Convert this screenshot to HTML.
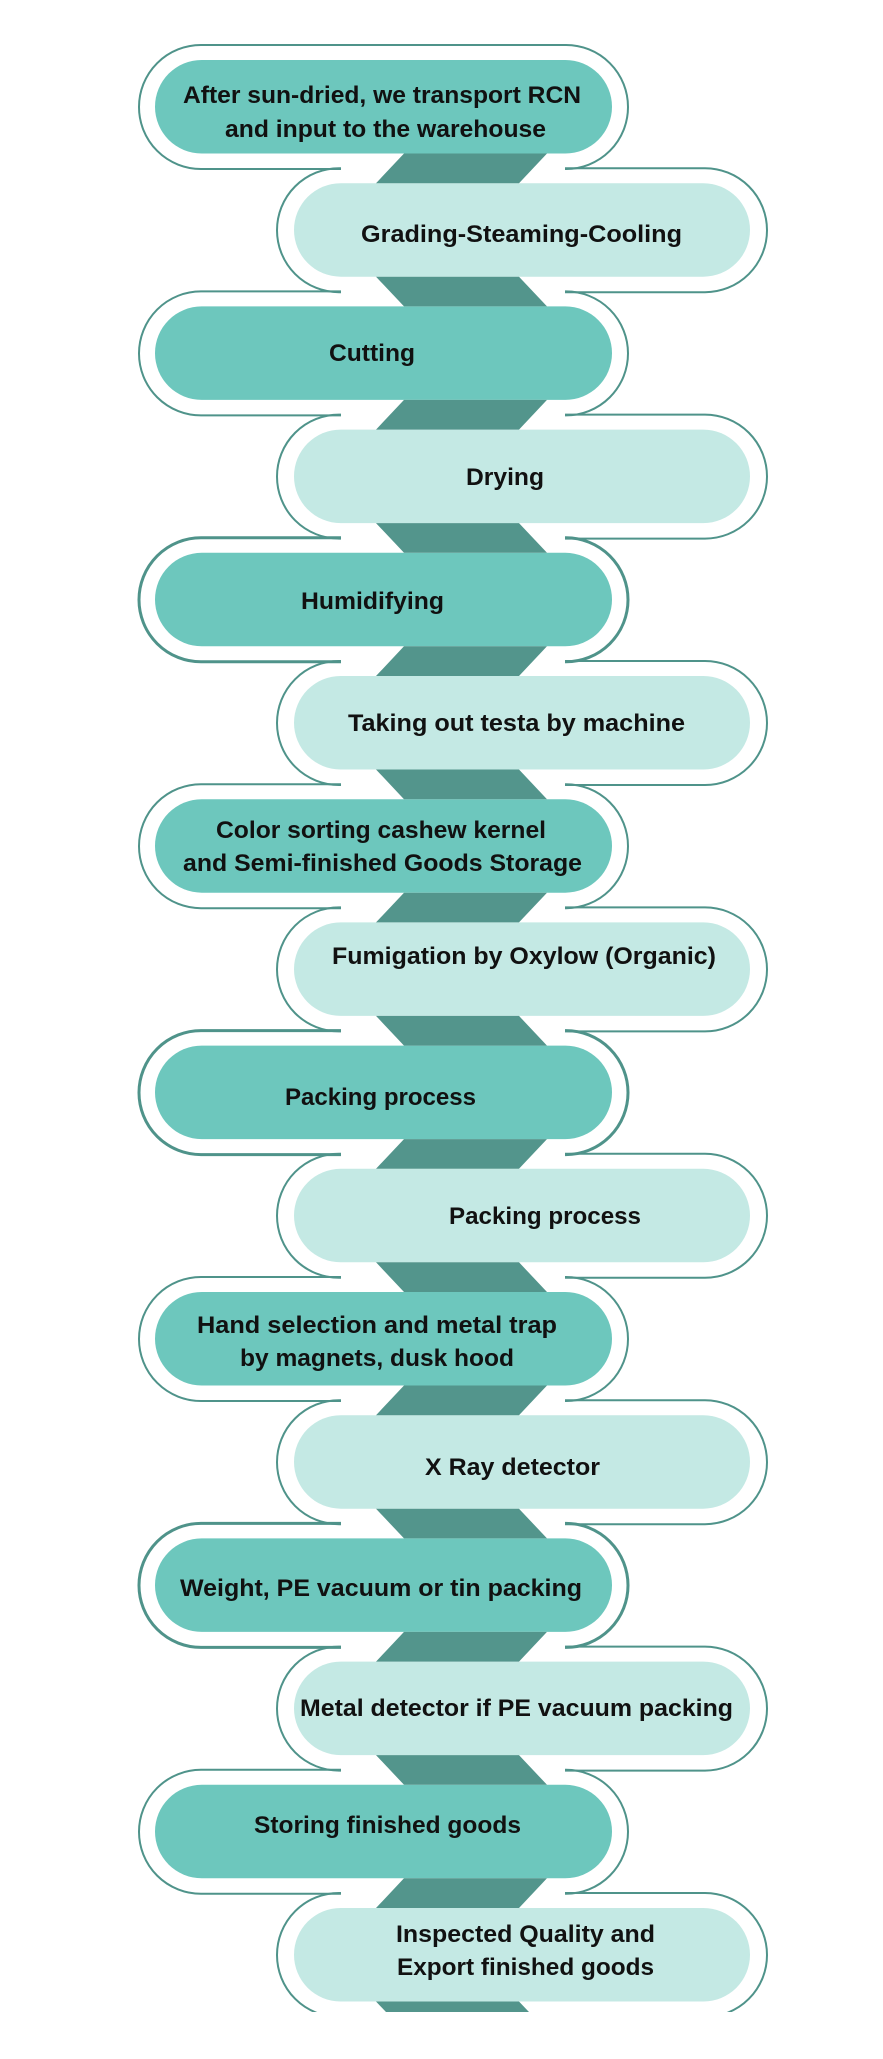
<!DOCTYPE html>
<html><head><meta charset="utf-8"><style>
html,body{margin:0;padding:0;background:#fff;}
svg{display:block;}
text{font-family:"Liberation Sans",Arial,sans-serif;font-weight:bold;font-size:24px;fill:#111;}
</style></head><body>
<svg width="883" height="2059" viewBox="0 0 883 2059" xmlns="http://www.w3.org/2000/svg">
<g fill="none" stroke="#4f938a" stroke-width="2">
<rect x="139" y="45" width="489" height="124" rx="62"/>
<rect x="277" y="168.2" width="490" height="124" rx="62"/>
<rect x="139" y="291.4" width="489" height="124" rx="62"/>
<rect x="277" y="414.6" width="490" height="124" rx="62"/>
<rect x="139" y="537.8" width="489" height="124" rx="62" stroke-width="3"/>
<rect x="277" y="661" width="490" height="124" rx="62"/>
<rect x="139" y="784.2" width="489" height="124" rx="62"/>
<rect x="277" y="907.4" width="490" height="124" rx="62"/>
<rect x="139" y="1030.6" width="489" height="124" rx="62" stroke-width="3"/>
<rect x="277" y="1153.8" width="490" height="124" rx="62"/>
<rect x="139" y="1277" width="489" height="124" rx="62"/>
<rect x="277" y="1400.2" width="490" height="124" rx="62"/>
<rect x="139" y="1523.4" width="489" height="124" rx="62" stroke-width="3"/>
<rect x="277" y="1646.6" width="490" height="124" rx="62"/>
<rect x="139" y="1769.8" width="489" height="124" rx="62"/>
<rect x="277" y="1893" width="490" height="124" rx="62"/>
</g>
<g fill="#fff">
<rect x="341" y="155" width="224" height="26"/>
<rect x="341" y="278.2" width="224" height="26"/>
<rect x="341" y="401.4" width="224" height="26"/>
<rect x="341" y="524.6" width="224" height="26"/>
<rect x="341" y="647.8" width="224" height="26"/>
<rect x="341" y="771" width="224" height="26"/>
<rect x="341" y="894.2" width="224" height="26"/>
<rect x="341" y="1017.4" width="224" height="26"/>
<rect x="341" y="1140.6" width="224" height="26"/>
<rect x="341" y="1263.8" width="224" height="26"/>
<rect x="341" y="1387" width="224" height="26"/>
<rect x="341" y="1510.2" width="224" height="26"/>
<rect x="341" y="1633.4" width="224" height="26"/>
<rect x="341" y="1756.6" width="224" height="26"/>
<rect x="341" y="1879.8" width="224" height="26"/>
<rect x="341" y="2003" width="224" height="26"/>
</g>
<g>
<rect x="155" y="60" width="457" height="93.5" rx="46.7" fill="#6dc7bd"/>
<rect x="294" y="183.2" width="456" height="93.5" rx="46.7" fill="#c4e9e4"/>
<rect x="155" y="306.4" width="457" height="93.5" rx="46.7" fill="#6dc7bd"/>
<rect x="294" y="429.6" width="456" height="93.5" rx="46.7" fill="#c4e9e4"/>
<rect x="155" y="552.8" width="457" height="93.5" rx="46.7" fill="#6dc7bd"/>
<rect x="294" y="676" width="456" height="93.5" rx="46.7" fill="#c4e9e4"/>
<rect x="155" y="799.2" width="457" height="93.5" rx="46.7" fill="#6dc7bd"/>
<rect x="294" y="922.4" width="456" height="93.5" rx="46.7" fill="#c4e9e4"/>
<rect x="155" y="1045.6" width="457" height="93.5" rx="46.7" fill="#6dc7bd"/>
<rect x="294" y="1168.8" width="456" height="93.5" rx="46.7" fill="#c4e9e4"/>
<rect x="155" y="1292" width="457" height="93.5" rx="46.7" fill="#6dc7bd"/>
<rect x="294" y="1415.2" width="456" height="93.5" rx="46.7" fill="#c4e9e4"/>
<rect x="155" y="1538.4" width="457" height="93.5" rx="46.7" fill="#6dc7bd"/>
<rect x="294" y="1661.6" width="456" height="93.5" rx="46.7" fill="#c4e9e4"/>
<rect x="155" y="1784.8" width="457" height="93.5" rx="46.7" fill="#6dc7bd"/>
<rect x="294" y="1908" width="456" height="93.5" rx="46.7" fill="#c4e9e4"/>
</g>
<g fill="#53958c">
<polygon points="404,153.5 547,153.5 519,183.2 376,183.2"/>
<polygon points="376,276.7 519,276.7 547,306.4 404,306.4"/>
<polygon points="404,399.9 547,399.9 519,429.6 376,429.6"/>
<polygon points="376,523.1 519,523.1 547,552.8 404,552.8"/>
<polygon points="404,646.3 547,646.3 519,676 376,676"/>
<polygon points="376,769.5 519,769.5 547,799.2 404,799.2"/>
<polygon points="404,892.7 547,892.7 519,922.4 376,922.4"/>
<polygon points="376,1015.9 519,1015.9 547,1045.6 404,1045.6"/>
<polygon points="404,1139.1 547,1139.1 519,1168.8 376,1168.8"/>
<polygon points="376,1262.3 519,1262.3 547,1292 404,1292"/>
<polygon points="404,1385.5 547,1385.5 519,1415.2 376,1415.2"/>
<polygon points="376,1508.7 519,1508.7 547,1538.4 404,1538.4"/>
<polygon points="404,1631.9 547,1631.9 519,1661.6 376,1661.6"/>
<polygon points="376,1755.1 519,1755.1 547,1784.8 404,1784.8"/>
<polygon points="404,1878.3 547,1878.3 519,1908 376,1908"/>
<polygon points="376,2001.5 519,2001.5 547,2031 404,2031"/>
</g>
<g lengthAdjust="spacingAndGlyphs">
<text x="183" y="103" textLength="398" lengthAdjust="spacingAndGlyphs">After sun-dried, we transport RCN</text>
<text x="225" y="137" textLength="321" lengthAdjust="spacingAndGlyphs">and input to the warehouse</text>
<text x="361" y="242" textLength="321" lengthAdjust="spacingAndGlyphs">Grading-Steaming-Cooling</text>
<text x="329" y="361" textLength="86" lengthAdjust="spacingAndGlyphs">Cutting</text>
<text x="466" y="485" textLength="78" lengthAdjust="spacingAndGlyphs">Drying</text>
<text x="301" y="609" textLength="143" lengthAdjust="spacingAndGlyphs">Humidifying</text>
<text x="348" y="731" textLength="337" lengthAdjust="spacingAndGlyphs">Taking out testa by machine</text>
<text x="216" y="838" textLength="330" lengthAdjust="spacingAndGlyphs">Color sorting cashew kernel</text>
<text x="183" y="871" textLength="399" lengthAdjust="spacingAndGlyphs">and Semi-finished Goods Storage</text>
<text x="332" y="964" textLength="384" lengthAdjust="spacingAndGlyphs">Fumigation by Oxylow (Organic)</text>
<text x="285" y="1105" textLength="191" lengthAdjust="spacingAndGlyphs">Packing process</text>
<text x="449" y="1224" textLength="192" lengthAdjust="spacingAndGlyphs">Packing process</text>
<text x="197" y="1333" textLength="360" lengthAdjust="spacingAndGlyphs">Hand selection and metal trap</text>
<text x="240" y="1366" textLength="274" lengthAdjust="spacingAndGlyphs">by magnets, dusk hood</text>
<text x="425" y="1475" textLength="175" lengthAdjust="spacingAndGlyphs">X Ray detector</text>
<text x="180" y="1596" textLength="402" lengthAdjust="spacingAndGlyphs">Weight, PE vacuum or tin packing</text>
<text x="300" y="1716" textLength="433" lengthAdjust="spacingAndGlyphs">Metal detector if PE vacuum packing</text>
<text x="254" y="1833" textLength="267" lengthAdjust="spacingAndGlyphs">Storing finished goods</text>
<text x="396" y="1942" textLength="259" lengthAdjust="spacingAndGlyphs">Inspected Quality and</text>
<text x="397" y="1975" textLength="257" lengthAdjust="spacingAndGlyphs">Export finished goods</text>
</g>
<rect x="0" y="2012" width="883" height="47" fill="#fff"/>
</svg>
</body></html>
